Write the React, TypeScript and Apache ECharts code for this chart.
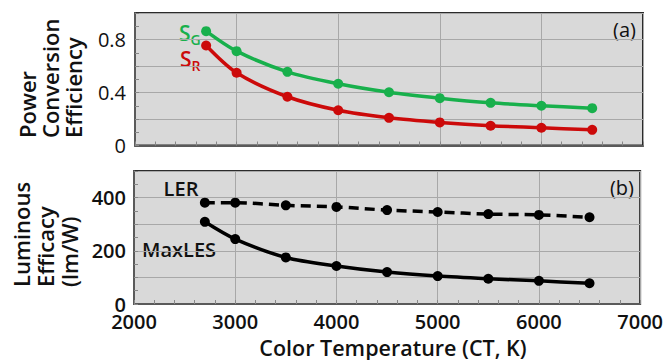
import React, { useEffect, useRef } from "react";
import * as echarts from "echarts";

const colorTemps = [2700, 3000, 3500, 4000, 4500, 5000, 5500, 6000, 6500];
const sG = [0.863, 0.712, 0.556, 0.466, 0.402, 0.357, 0.322, 0.3, 0.282];
const sR = [0.755, 0.549, 0.368, 0.266, 0.209, 0.174, 0.149, 0.134, 0.118];
const ler = [381, 381, 371, 365, 353, 346, 338, 335, 326];
const maxLes = [309, 244, 175, 143, 120, 105, 95, 87, 78];

const FONT = "Open Sans";

function pairs(ys: number[]) {
  return colorTemps.map((x, i) => [x, ys[i]]);
}

export default function App() {
  const ref = useRef<HTMLDivElement>(null);
  useEffect(() => {
    if (!ref.current) return;
    const chart = echarts.init(ref.current, undefined, { renderer: "svg" });
    const gridCommon = {
      show: true,
      backgroundColor: "#d9d9d9",
      borderColor: "#2b2b2b",
      borderWidth: 2,
    };
    const xCommon = {
      type: "value",
      min: 2000,
      max: 7000,
      interval: 1000,
      axisLine: { show: true, lineStyle: { color: "#5a5a5a", width: 2 } },
      axisTick: { show: true, inside: true, length: 4, lineStyle: { color: "#888" } },
      minorTick: { show: true, splitNumber: 5, length: 4, lineStyle: { color: "#888" } },
      splitLine: { show: true, lineStyle: { color: "#a8a8a8", width: 1 } },
    };
    const yCommon = {
      type: "value",
      axisLine: { show: true, lineStyle: { color: "#5a5a5a", width: 2 } },
      axisTick: { show: true, inside: true, length: 4, lineStyle: { color: "#888" } },
      minorTick: { show: true, splitNumber: 2, length: 4, lineStyle: { color: "#888" } },
      splitLine: { show: true, lineStyle: { color: "#a8a8a8", width: 1 } },
    };
    const sub = (label: string, main: string, color: string) => ({
      text: `{m|${main}}{s|${label}}`,
      align: "left",
      verticalAlign: "middle",
      rich: {
        m: { fontFamily: FONT, fontWeight: 600, fontSize: 21, fill: color, color },
        s: { fontFamily: FONT, fontWeight: 600, fontSize: 14, fill: color, color, padding: [12, 0, 0, 0] },
      },
    });
    chart.setOption({
      animation: false,
      textStyle: { fontFamily: FONT },
      grid: [
        { ...gridCommon, left: 135, top: 13, width: 508, height: 132.5 },
        { ...gridCommon, left: 134, top: 171, width: 508, height: 133 },
      ],
      xAxis: [
        { ...xCommon, gridIndex: 0, axisLabel: { show: false } },
        {
          ...xCommon,
          gridIndex: 1,
          axisLabel: {
            show: true,
            margin: 10,
            fontSize: 20,
            lineHeight: 14,
            fontWeight: 600,
            color: "#111",
            fontFamily: FONT,
            formatter: (v: number) => String(v),
          },
        },
      ],
      yAxis: [
        {
          ...yCommon,
          gridIndex: 0,
          min: 0,
          max: 1.0,
          interval: 0.2,
          axisLabel: {
            margin: 9,
            fontSize: 20,
            lineHeight: 14,
            color: "#111",
            fontFamily: FONT,
            formatter: (v: number) => {
              const r = Math.round(v * 10) / 10;
              if (r === 0) return "0";
              if (r === 0.4 || r === 0.8) return r.toFixed(1);
              return "";
            },
          },
        },
        {
          ...yCommon,
          gridIndex: 1,
          min: 0,
          max: 500,
          interval: 100,
          axisLabel: {
            margin: 8,
            fontSize: 20,
            lineHeight: 14,
            fontWeight: 600,
            color: "#111",
            fontFamily: FONT,
            formatter: (v: number) => (v % 200 === 0 && v < 500 ? String(v) : ""),
          },
        },
      ],
      series: [
        {
          name: "SG",
          type: "line",
          xAxisIndex: 0,
          yAxisIndex: 0,
          data: pairs(sG),
          smooth: 0.3,
          symbol: "circle",
          symbolSize: 10,
          lineStyle: { color: "#18b04c", width: 3.5 },
          itemStyle: { color: "#18b04c" },
        },
        {
          name: "SR",
          type: "line",
          xAxisIndex: 0,
          yAxisIndex: 0,
          data: pairs(sR),
          smooth: 0.3,
          symbol: "circle",
          symbolSize: 10,
          lineStyle: { color: "#cc0a0a", width: 3.5 },
          itemStyle: { color: "#cc0a0a" },
        },
        {
          name: "LER",
          type: "line",
          xAxisIndex: 1,
          yAxisIndex: 1,
          data: pairs(ler),
          smooth: 0.3,
          symbol: "circle",
          symbolSize: 10,
          lineStyle: { color: "#000", width: 3.5, type: [10, 6] },
          itemStyle: { color: "#000" },
        },
        {
          name: "MaxLES",
          type: "line",
          xAxisIndex: 1,
          yAxisIndex: 1,
          data: pairs(maxLes),
          smooth: 0.3,
          symbol: "circle",
          symbolSize: 10,
          lineStyle: { color: "#000", width: 3.5 },
          itemStyle: { color: "#000" },
        },
      ],
      graphic: [
        {
          type: "text",
          x: 50,
          y: 138,
          rotation: Math.PI / 2,
          style: {
            text: "Power\nConversion\nEfficiency",
            font: `600 22px "${FONT}"`,
            fill: "#111",
            align: "left",
            verticalAlign: "middle",
            lineHeight: 23,
          },
        },
        {
          type: "text",
          x: 45,
          y: 287,
          rotation: Math.PI / 2,
          style: {
            text: "Luminous\nEfficacy\n(lm/W)",
            font: `600 22px "${FONT}"`,
            fill: "#111",
            align: "left",
            verticalAlign: "middle",
            lineHeight: 24,
          },
        },
        {
          type: "text",
          x: 393,
          y: 347,
          style: {
            text: "Color Temperature (CT, K)",
            font: `600 21.5px "${FONT}"`,
            fill: "#111",
            align: "center",
            verticalAlign: "middle",
          },
        },
        { type: "text", x: 179, y: 33, style: sub("G", "S", "#18b04c") },
        { type: "text", x: 180, y: 59, style: sub("R", "S", "#cc0a0a") },
        {
          type: "text",
          x: 181,
          y: 188,
          style: {
            text: "LER",
            font: `600 20px "${FONT}"`,
            fill: "#111",
            align: "center",
            verticalAlign: "middle",
          },
        },
        {
          type: "text",
          x: 142,
          y: 249,
          style: {
            text: "MaxLES",
            font: `600 20px "${FONT}"`,
            fill: "#111",
            align: "left",
            verticalAlign: "middle",
          },
        },
        {
          type: "text",
          x: 636,
          y: 29,
          style: {
            text: "(a)",
            font: `400 20px "${FONT}"`,
            fill: "#111",
            align: "right",
            verticalAlign: "middle",
          },
        },
        {
          type: "text",
          x: 634,
          y: 187,
          style: {
            text: "(b)",
            font: `400 20px "${FONT}"`,
            fill: "#111",
            align: "right",
            verticalAlign: "middle",
          },
        },
      ],
    });
    return () => chart.dispose();
  }, []);
  return <div ref={ref} style={{ width: 666, height: 360, position: "absolute", left: 0, top: 0 }} />;
}
